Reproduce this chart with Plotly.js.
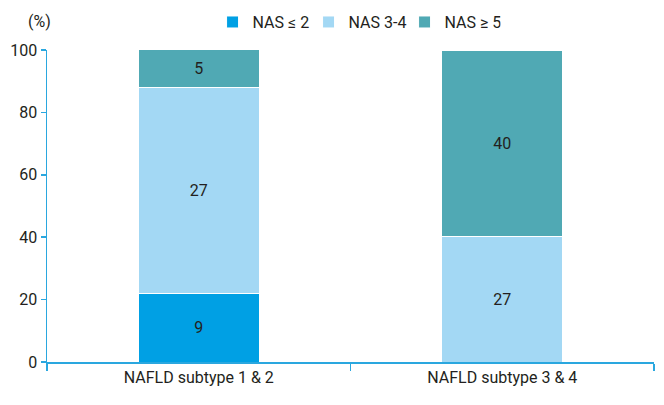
<!DOCTYPE html>
<html>
<head>
<meta charset="utf-8">
<script src="https://cdn.plot.ly/plotly-3.0.1.min.js"></script>
<style>html,body{margin:0;padding:0;background:#fff}</style>
</head>
<body>
<div id="chart" style="width:664px;height:405px"></div>
<script>
const categories = ["NAFLD subtype 1 & 2", "NAFLD subtype 3 & 4"];
const seriesNames = ["NAS ≤ 2", "NAS 3-4", "NAS ≥ 5"];
const pctLow = [22.0, 0];
const pctMid = [65.9, 40.3];
const pctHigh = [12.2, 59.7];
const countLow = ["9", ""];
const countMid = ["27", "27"];
const countHigh = ["5", "40"];
const colors = ["#00a0e4", "#a3d8f4", "#50a9b4"];

const FONT = "Roboto, sans-serif";
const axisBlue = "#2aa7df";

function mk(name, y, txt, color) {
  return {
    type: "bar", name: name, x: categories, y: y, text: txt,
    textposition: "inside", insidetextanchor: "middle",
    textfont: {family: FONT, size: 16, color: "#231f20"},
    marker: {color: color, line: {color: "#ffffff", width: 1}},
    hoverinfo: "skip"
  };
}

const data = [
  mk(seriesNames[0], pctLow, countLow, colors[0]),
  mk(seriesNames[1], pctMid, countMid, colors[1]),
  mk(seriesNames[2], pctHigh, countHigh, colors[2])
];

const layout = {
  width: 664, height: 405,
  margin: {l: 47, r: 10, t: 50, b: 43, autoexpand: false},
  barmode: "stack", bargap: 0.6,
  paper_bgcolor: "#fff", plot_bgcolor: "#fff",
  font: {family: FONT, size: 16, color: "#231f20"},
  showlegend: true,
  legend: {orientation: "h", x: 0.51, xanchor: "center", xref: "paper",
           y: 1.035, yanchor: "bottom", traceorder: "normal",
           font: {family: FONT, size: 16, color: "#231f20"},
           itemwidth: 30, entrywidth: 51, tracegroupgap: 0},
  xaxis: {type: "category", showline: true, linecolor: axisBlue, linewidth: 1.5,
          ticks: "outside", tickson: "boundaries", ticklen: 7, tickcolor: axisBlue, tickwidth: 1.5,
          showgrid: false, zeroline: false, automargin: false,
          tickfont: {family: FONT, size: 16, color: "#231f20"}},
  yaxis: {range: [0, 100], tickvals: [0, 20, 40, 60, 80, 100],
          showline: true, linecolor: axisBlue, linewidth: 1.5,
          ticks: "outside", ticklen: 5, tickcolor: axisBlue, tickwidth: 1.5,
          showgrid: false, zeroline: false, automargin: false,
          tickfont: {family: FONT, size: 16, color: "#231f20"}},
  annotations: [{text: "(%)", xref: "paper", yref: "paper", x: 0, y: 1.055,
                 xanchor: "right", yanchor: "bottom", xshift: 6, showarrow: false,
                 font: {family: FONT, size: 16, color: "#231f20"}}]
};

Plotly.newPlot("chart", data, layout, {displayModeBar: false, staticPlot: true});
</script>
</body>
</html>
